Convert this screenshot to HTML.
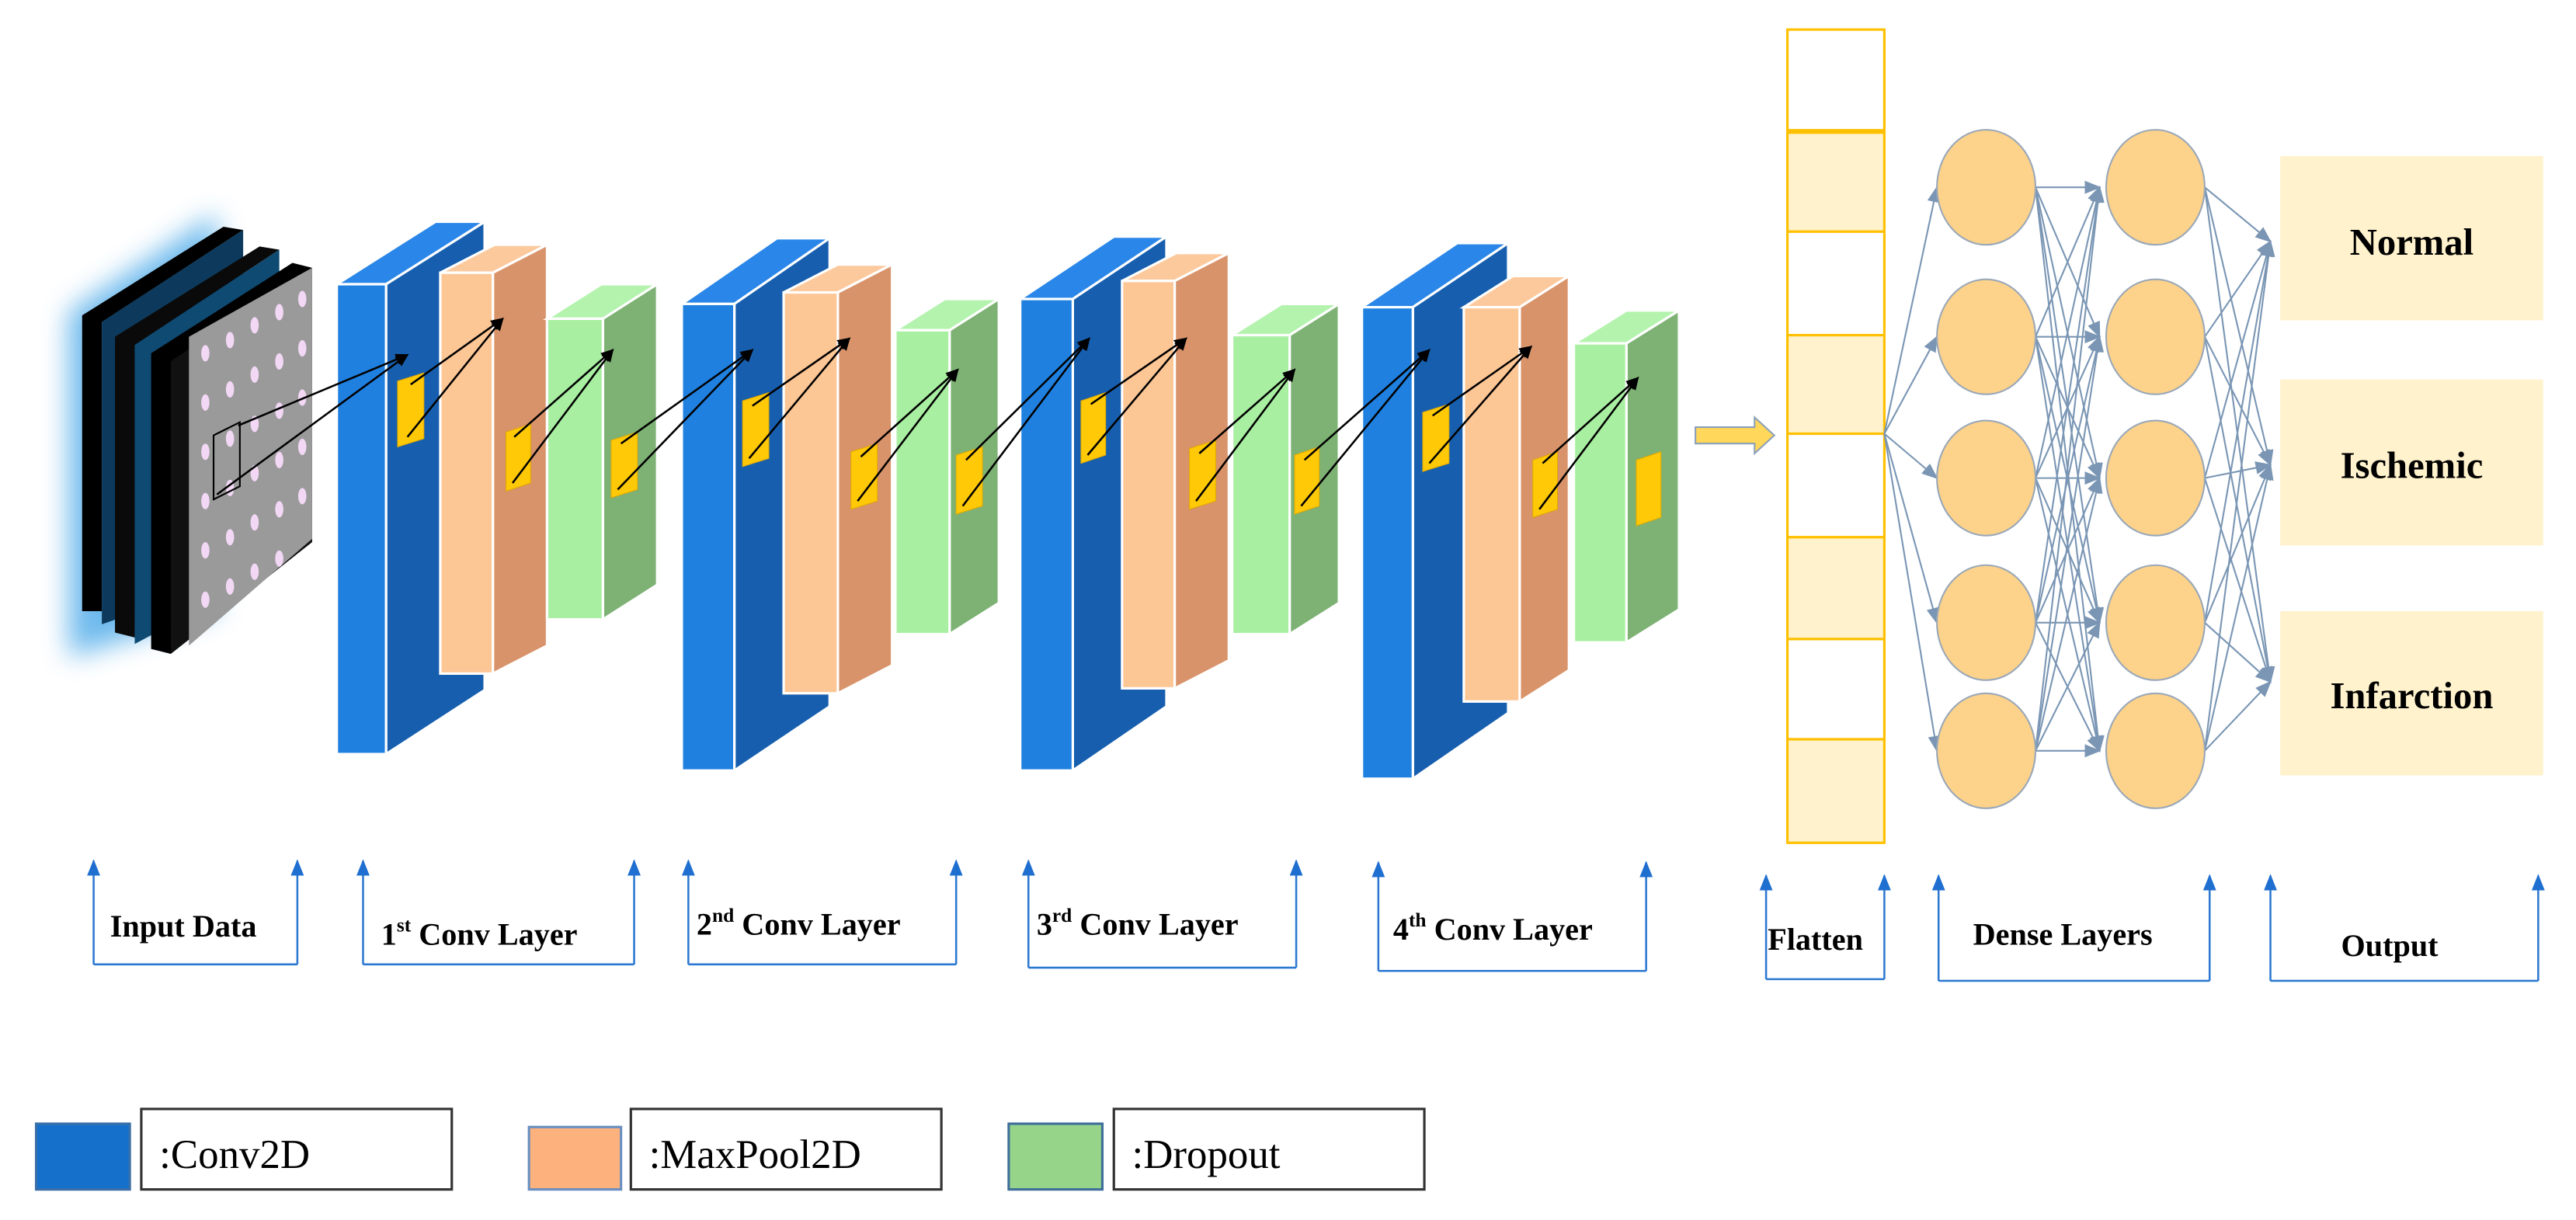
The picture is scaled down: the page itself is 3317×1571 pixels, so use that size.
<!DOCTYPE html>
<html><head><meta charset="utf-8"><style>
html,body{margin:0;padding:0;background:#fff;}
svg{display:block;}
</style></head><body>
<svg width="3317" height="1571" viewBox="0 0 1568 742.6" preserveAspectRatio="none" xmlns="http://www.w3.org/2000/svg" font-family="'Liberation Serif', 'DejaVu Serif', serif">
<defs>
<marker id="ab" markerWidth="8" markerHeight="8" refX="7" refY="4" orient="auto" markerUnits="userSpaceOnUse"><path d="M0,0.5 L8,4 L0,7.5 z" fill="#000"/></marker>
<marker id="ag" markerWidth="10" markerHeight="8" refX="9" refY="4" orient="auto" markerUnits="userSpaceOnUse"><path d="M0,0 L10,4 L0,8 z" fill="#7a96b4"/></marker>
<marker id="au" markerWidth="10" markerHeight="8" refX="9" refY="4" orient="auto" markerUnits="userSpaceOnUse"><path d="M0,0 L10,4 L0,8 z" fill="#1f6fd0"/></marker>
<filter id="glow" x="-50%" y="-50%" width="200%" height="200%"><feGaussianBlur stdDeviation="8"/></filter>
</defs>

<!-- input stack -->
<polygon points="42,190 132,130 132,372 42,400" fill="#4aa8e8" filter="url(#glow)" opacity="0.8"/>
<polygon points="50,192 136,138 148,140 62,196 62,372 50,372" fill="#000"/>
<polygon points="62,196 148,140 148,350 62,380" fill="#0d3a5c"/>
<polygon points="70,205 158,150 170,152 82,210 82,388 70,385" fill="#0a0a0a"/>
<polygon points="82,210 170,152 170,345 82,392" fill="#0f4a72"/>
<polygon points="92,215 178,160 190,163 104,220 104,398 92,395" fill="#000"/>
<polygon points="104,220 190,163 190,330 104,398" fill="#111"/>
<polygon points="115,205 190,163 190,328 115,393" fill="#9a9a9a"/>
<g fill="#f2d8f5">
<ellipse cx="125" cy="215" rx="2.5" ry="5"/><ellipse cx="140" cy="207" rx="2.5" ry="5"/><ellipse cx="155" cy="198" rx="2.5" ry="5"/><ellipse cx="170" cy="190" rx="2.5" ry="5"/><ellipse cx="184" cy="182" rx="2.5" ry="5"/>
<ellipse cx="125" cy="245" rx="2.5" ry="5"/><ellipse cx="140" cy="237" rx="2.5" ry="5"/><ellipse cx="155" cy="228" rx="2.5" ry="5"/><ellipse cx="170" cy="220" rx="2.5" ry="5"/><ellipse cx="184" cy="212" rx="2.5" ry="5"/>
<ellipse cx="125" cy="275" rx="2.5" ry="5"/><ellipse cx="140" cy="267" rx="2.5" ry="5"/><ellipse cx="155" cy="258" rx="2.5" ry="5"/><ellipse cx="170" cy="250" rx="2.5" ry="5"/><ellipse cx="184" cy="242" rx="2.5" ry="5"/>
<ellipse cx="125" cy="305" rx="2.5" ry="5"/><ellipse cx="140" cy="297" rx="2.5" ry="5"/><ellipse cx="155" cy="288" rx="2.5" ry="5"/><ellipse cx="170" cy="280" rx="2.5" ry="5"/><ellipse cx="184" cy="272" rx="2.5" ry="5"/>
<ellipse cx="125" cy="335" rx="2.5" ry="5"/><ellipse cx="140" cy="327" rx="2.5" ry="5"/><ellipse cx="155" cy="318" rx="2.5" ry="5"/><ellipse cx="170" cy="310" rx="2.5" ry="5"/><ellipse cx="184" cy="302" rx="2.5" ry="5"/>
<ellipse cx="125" cy="365" rx="2.5" ry="5"/><ellipse cx="140" cy="357" rx="2.5" ry="5"/><ellipse cx="155" cy="348" rx="2.5" ry="5"/><ellipse cx="170" cy="340" rx="2.5" ry="5"/>
</g>
<polygon points="130,265 146,257 146,296 130,304" fill="none" stroke="#000" stroke-width="1"/>

<g stroke="#fff" stroke-width="1.5">
<polygon points="205,173 235,173 295,135 265,135" fill="#2a86e8"/>
<polygon points="235,173 295,135 295,420 235,459" fill="#175fae"/>
<rect x="205" y="173" width="30" height="286" fill="#1f80e0"/>
<polygon points="268,166 300,166 333,149 301,149" fill="#fcc99c"/>
<polygon points="300,166 333,149 333,393 300,410" fill="#d8936a"/>
<rect x="268" y="166" width="32" height="244" fill="#fdc695"/>
<polygon points="333,194 367,194 400,173 366,173" fill="#b4f3ad"/>
<polygon points="367,194 400,173 400,356 367,377" fill="#7db274"/>
<rect x="333" y="194" width="34" height="183" fill="#a9efa2"/>

<polygon points="415,185 447,185 505,145 473,145" fill="#2a86e8"/>
<polygon points="447,185 505,145 505,430 447,469" fill="#175fae"/>
<rect x="415" y="185" width="32" height="284" fill="#1f80e0"/>
<polygon points="477,178 510,178 543,161 510,161" fill="#fcc99c"/>
<polygon points="510,178 543,161 543,405 510,422" fill="#d8936a"/>
<rect x="477" y="178" width="33" height="244" fill="#fdc695"/>
<polygon points="545,201 578,201 608,182 575,182" fill="#b4f3ad"/>
<polygon points="578,201 608,182 608,367 578,386" fill="#7db274"/>
<rect x="545" y="201" width="33" height="185" fill="#a9efa2"/>

<polygon points="621,182 653,182 710,144 678,144" fill="#2a86e8"/>
<polygon points="653,182 710,144 710,430 653,469" fill="#175fae"/>
<rect x="621" y="182" width="32" height="287" fill="#1f80e0"/>
<polygon points="683,171 715,171 748,154 716,154" fill="#fcc99c"/>
<polygon points="715,171 748,154 748,402 715,419" fill="#d8936a"/>
<rect x="683" y="171" width="32" height="248" fill="#fdc695"/>
<polygon points="750,204 785,204 815,185 780,185" fill="#b4f3ad"/>
<polygon points="785,204 815,185 815,367 785,386" fill="#7db274"/>
<rect x="750" y="204" width="35" height="182" fill="#a9efa2"/>

<polygon points="829,187 860,187 918,148 887,148" fill="#2a86e8"/>
<polygon points="860,187 918,148 918,434 860,474" fill="#175fae"/>
<rect x="829" y="187" width="31" height="287" fill="#1f80e0"/>
<polygon points="891,187 925,187 955,168 921,168" fill="#fcc99c"/>
<polygon points="925,187 955,168 955,408 925,427" fill="#d8936a"/>
<rect x="891" y="187" width="34" height="240" fill="#fdc695"/>
<polygon points="958,209 990,209 1022,189 990,189" fill="#b4f3ad"/>
<polygon points="990,209 1022,189 1022,371 990,391" fill="#7db274"/>
<rect x="958" y="209" width="32" height="182" fill="#a9efa2"/>
</g>

<g fill="#ffc907" stroke="#e0a800" stroke-width="0.5">
<polygon points="242,232 258,227 258,267 242,272"/>
<polygon points="308,263 323,258 323,294 308,299"/>
<polygon points="372,268 388,263 388,298 372,303"/>
<polygon points="452,244 468,239 468,279 452,284"/>
<polygon points="518,275 534,270 534,305 518,310"/>
<polygon points="582,277 598,272 598,308 582,313"/>
<polygon points="658,244 673,239 673,277 658,282"/>
<polygon points="724,273 740,268 740,305 724,310"/>
<polygon points="788,277 803,272 803,308 788,313"/>
<polygon points="866,251 882,246 882,282 866,287"/>
<polygon points="933,280 948,275 948,310 933,315"/>
<polygon points="996,280 1011,275 1011,315 996,320"/>
</g>

<g stroke="#000" stroke-width="1.2" marker-end="url(#ab)">
<line x1="145" y1="259" x2="248" y2="216"/><line x1="132" y1="301" x2="248" y2="216"/>
<line x1="250" y1="234" x2="306" y2="194"/><line x1="248" y1="266" x2="306" y2="194"/>
<line x1="313" y1="266" x2="373" y2="213"/><line x1="312" y1="294" x2="373" y2="213"/>
<line x1="378" y1="270" x2="458" y2="213"/><line x1="376" y1="298" x2="458" y2="213"/>
<line x1="458" y1="247" x2="517" y2="206"/><line x1="456" y1="279" x2="517" y2="206"/>
<line x1="524" y1="278" x2="583" y2="225"/><line x1="522" y1="305" x2="583" y2="225"/>
<line x1="588" y1="280" x2="663" y2="206"/><line x1="586" y1="308" x2="663" y2="206"/>
<line x1="664" y1="246" x2="722" y2="206"/><line x1="662" y1="277" x2="722" y2="206"/>
<line x1="730" y1="276" x2="788" y2="225"/><line x1="728" y1="305" x2="788" y2="225"/>
<line x1="794" y1="280" x2="870" y2="213"/><line x1="792" y1="308" x2="870" y2="213"/>
<line x1="872" y1="253" x2="932" y2="211"/><line x1="870" y1="282" x2="932" y2="211"/>
<line x1="939" y1="282" x2="997" y2="230"/><line x1="937" y1="310" x2="997" y2="230"/>
</g>

<polygon points="1032,260 1068,260 1068,254 1080,265 1068,276 1068,270 1032,270" fill="#ffd75a" stroke="#8aa0b8" stroke-width="1"/>

<g stroke="#ffc000" stroke-width="1.5">
<rect x="1088" y="18" width="59" height="62" fill="#fff"/>
<rect x="1088" y="80" width="59" height="61" fill="#fff2cc"/>
<rect x="1088" y="141" width="59" height="63" fill="#fff"/>
<rect x="1088" y="204" width="59" height="60" fill="#fff2cc"/>
<rect x="1088" y="264" width="59" height="63" fill="#fff"/>
<rect x="1088" y="327" width="59" height="62" fill="#fff2cc"/>
<rect x="1088" y="389" width="59" height="61" fill="#fff"/>
<rect x="1088" y="450" width="59" height="63" fill="#fff2cc"/>
</g>
<line x1="1088" y1="80" x2="1147" y2="80" stroke="#ffc000" stroke-width="3"/>

<rect x="1388" y="95" width="160" height="100" fill="#fff2cc"/>
<rect x="1388" y="231" width="160" height="101" fill="#fff2cc"/>
<rect x="1388" y="372" width="160" height="100" fill="#fff2cc"/>
<g font-weight="bold" font-size="23" text-anchor="middle" fill="#000">
<text x="1468" y="155">Normal</text>
<text x="1468" y="291">Ischemic</text>
<text x="1468" y="431">Infarction</text>
</g>

<g stroke="#7a96b4" stroke-width="1" marker-end="url(#ag)" fill="none">
<line x1="1147" y1="264" x2="1179" y2="114"/>
<line x1="1147" y1="264" x2="1179" y2="205"/>
<line x1="1147" y1="264" x2="1179" y2="291"/>
<line x1="1147" y1="264" x2="1179" y2="379"/>
<line x1="1147" y1="264" x2="1179" y2="457"/>
<line x1="1239" y1="114" x2="1278" y2="114"/><line x1="1239" y1="114" x2="1278" y2="205"/><line x1="1239" y1="114" x2="1278" y2="291"/><line x1="1239" y1="114" x2="1278" y2="379"/><line x1="1239" y1="114" x2="1278" y2="457"/>
<line x1="1239" y1="205" x2="1278" y2="114"/><line x1="1239" y1="205" x2="1278" y2="205"/><line x1="1239" y1="205" x2="1278" y2="291"/><line x1="1239" y1="205" x2="1278" y2="379"/><line x1="1239" y1="205" x2="1278" y2="457"/>
<line x1="1239" y1="291" x2="1278" y2="114"/><line x1="1239" y1="291" x2="1278" y2="205"/><line x1="1239" y1="291" x2="1278" y2="291"/><line x1="1239" y1="291" x2="1278" y2="379"/><line x1="1239" y1="291" x2="1278" y2="457"/>
<line x1="1239" y1="379" x2="1278" y2="114"/><line x1="1239" y1="379" x2="1278" y2="205"/><line x1="1239" y1="379" x2="1278" y2="291"/><line x1="1239" y1="379" x2="1278" y2="379"/><line x1="1239" y1="379" x2="1278" y2="457"/>
<line x1="1239" y1="457" x2="1278" y2="114"/><line x1="1239" y1="457" x2="1278" y2="205"/><line x1="1239" y1="457" x2="1278" y2="291"/><line x1="1239" y1="457" x2="1278" y2="379"/><line x1="1239" y1="457" x2="1278" y2="457"/>
<line x1="1342" y1="114" x2="1382" y2="147"/><line x1="1342" y1="114" x2="1382" y2="283"/><line x1="1342" y1="114" x2="1382" y2="415"/>
<line x1="1342" y1="205" x2="1382" y2="147"/><line x1="1342" y1="205" x2="1382" y2="283"/><line x1="1342" y1="205" x2="1382" y2="415"/>
<line x1="1342" y1="291" x2="1382" y2="147"/><line x1="1342" y1="291" x2="1382" y2="283"/><line x1="1342" y1="291" x2="1382" y2="415"/>
<line x1="1342" y1="379" x2="1382" y2="147"/><line x1="1342" y1="379" x2="1382" y2="283"/><line x1="1342" y1="379" x2="1382" y2="415"/>
<line x1="1342" y1="457" x2="1382" y2="147"/><line x1="1342" y1="457" x2="1382" y2="283"/><line x1="1342" y1="457" x2="1382" y2="415"/>
</g>
<g fill="#fdd28a" stroke="#9aa8b8" stroke-width="1">
<ellipse cx="1209" cy="114" rx="30" ry="35"/><ellipse cx="1209" cy="205" rx="30" ry="35"/><ellipse cx="1209" cy="291" rx="30" ry="35"/><ellipse cx="1209" cy="379" rx="30" ry="35"/><ellipse cx="1209" cy="457" rx="30" ry="35"/>
<ellipse cx="1312" cy="114" rx="30" ry="35"/><ellipse cx="1312" cy="205" rx="30" ry="35"/><ellipse cx="1312" cy="291" rx="30" ry="35"/><ellipse cx="1312" cy="379" rx="30" ry="35"/><ellipse cx="1312" cy="457" rx="30" ry="35"/>
</g>

<g stroke="#2c78d0" stroke-width="1.2" fill="none">
<polyline points="57,587 181,587"/><line x1="57" y1="587" x2="57" y2="524" marker-end="url(#au)"/><line x1="181" y1="587" x2="181" y2="524" marker-end="url(#au)"/>
<polyline points="221,587 386,587"/><line x1="221" y1="587" x2="221" y2="524" marker-end="url(#au)"/><line x1="386" y1="587" x2="386" y2="524" marker-end="url(#au)"/>
<polyline points="419,587 582,587"/><line x1="419" y1="587" x2="419" y2="524" marker-end="url(#au)"/><line x1="582" y1="587" x2="582" y2="524" marker-end="url(#au)"/>
<polyline points="626,589 789,589"/><line x1="626" y1="589" x2="626" y2="524" marker-end="url(#au)"/><line x1="789" y1="589" x2="789" y2="524" marker-end="url(#au)"/>
<polyline points="839,591 1002,591"/><line x1="839" y1="591" x2="839" y2="525" marker-end="url(#au)"/><line x1="1002" y1="591" x2="1002" y2="525" marker-end="url(#au)"/>
<polyline points="1075,596 1147,596"/><line x1="1075" y1="596" x2="1075" y2="533" marker-end="url(#au)"/><line x1="1147" y1="596" x2="1147" y2="533" marker-end="url(#au)"/>
<polyline points="1180,597 1345,597"/><line x1="1180" y1="597" x2="1180" y2="533" marker-end="url(#au)"/><line x1="1345" y1="597" x2="1345" y2="533" marker-end="url(#au)"/>
<polyline points="1382,597 1545,597"/><line x1="1382" y1="597" x2="1382" y2="533" marker-end="url(#au)"/><line x1="1545" y1="597" x2="1545" y2="533" marker-end="url(#au)"/>
</g>
<g font-weight="bold" font-size="19" fill="#000">
<text x="67" y="570">Input Data</text>
<text x="232" y="575">1<tspan font-size="12" dy="-8">st</tspan><tspan dy="8"> Conv Layer</tspan></text>
<text x="424" y="569">2<tspan font-size="12" dy="-8">nd</tspan><tspan dy="8"> Conv Layer</tspan></text>
<text x="631" y="569">3<tspan font-size="12" dy="-8">rd</tspan><tspan dy="8"> Conv Layer</tspan></text>
<text x="848" y="572">4<tspan font-size="12" dy="-8">th</tspan><tspan dy="8"> Conv Layer</tspan></text>
<text x="1076" y="578">Flatten</text>
<text x="1201" y="575">Dense Layers</text>
<text x="1425" y="582">Output</text>
</g>

<rect x="22" y="684" width="57" height="40" fill="#1570cc" stroke="#3a6fa8" stroke-width="1.5"/>
<rect x="86" y="675" width="189" height="49" fill="#fff" stroke="#333" stroke-width="1.5"/>
<text x="97" y="711" font-size="25">:Conv2D</text>
<rect x="322" y="686" width="56" height="38" fill="#fdb27e" stroke="#6a8fc0" stroke-width="1.5"/>
<rect x="384" y="675" width="189" height="49" fill="#fff" stroke="#333" stroke-width="1.5"/>
<text x="395" y="711" font-size="25">:MaxPool2D</text>
<rect x="614" y="684" width="57" height="40" fill="#96d48a" stroke="#3f6f9a" stroke-width="1.5"/>
<rect x="678" y="675" width="189" height="49" fill="#fff" stroke="#333" stroke-width="1.5"/>
<text x="689" y="711" font-size="25">:Dropout</text>
</svg>
</body></html>
